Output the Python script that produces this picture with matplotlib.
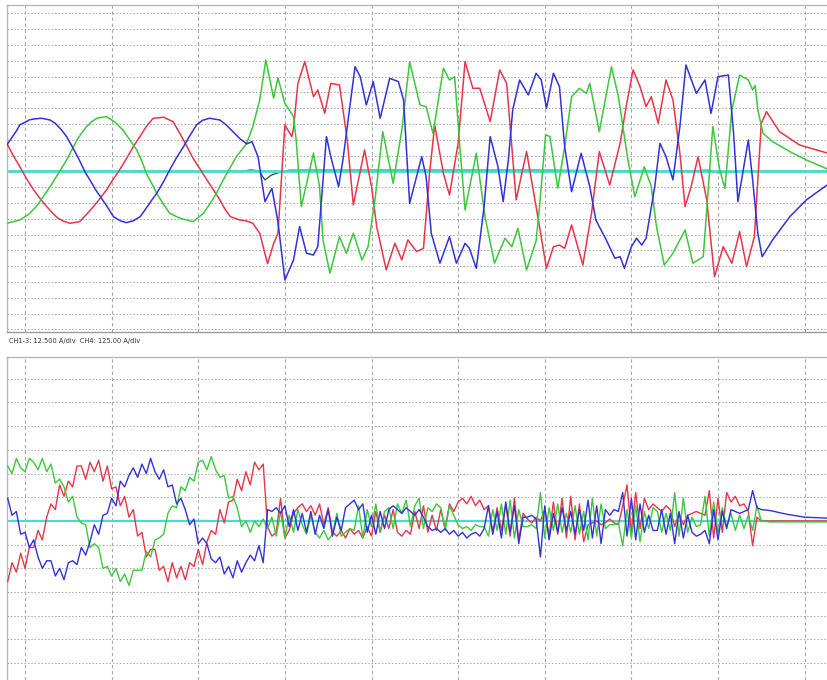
import numpy as np
import matplotlib.pyplot as plt

# ---- top panel: phase currents CH1-3 (time in ms, current in A)
t_red = [-2.1, -1.4, -0.6, 0.2, 1.0, 1.8, 2.5, 3.2, 3.8, 4.5, 5.2, 6.3, 7.1, 7.9, 8.7, 9.4, 10.1,
         10.8, 11.7, 12.5, 13.3, 14.0, 14.8, 16.0, 17.1, 17.8, 18.5, 19.4, 20.2, 21.0, 21.8, 22.5,
         23.1, 23.7, 24.8, 25.5, 26.3, 27.1, 28.0, 28.7, 29.2, 30.0, 30.8, 31.0, 31.5, 32.3,
         33.3, 33.8, 34.6, 35.3, 36.3, 37.2, 37.9, 39.2, 40.0, 40.6, 41.7, 42.7, 43.5, 44.2, 45.2,
         46.0, 46.7, 47.3, 48.3, 49.0, 50.0, 50.8, 51.7, 52.5, 53.7, 54.8, 55.6, 56.7, 57.9, 59.2,
         60.2, 61.0, 61.7, 62.3, 63.1, 64.4, 65.4, 66.3, 67.5, 68.7, 69.4, 70.2, 71.0, 71.7, 72.3,
         73.1, 74.0, 74.8, 75.6, 76.2, 76.9, 77.7, 78.7, 79.6, 80.6, 81.6, 82.5, 83.3, 84.2, 85.0,
         85.6, 87.1, 89.4, 92.6]
i_red = [22.3, 13.0, 3.8, -6.0, -14.6, -22.0, -27.8, -33.0, -37.0, -39.5, -41.0, -39.7, -34.0,
         -27.8, -21.0, -14.6, -7.0, 0.0, 10.0, 19.6, 28.0, 35.5, 42.1, 42.9, 39.4, 31.0, 22.3, 10.4,
         2.0, -6.7, -15.0, -22.5, -30.0, -35.7, -38.4, -39.0, -41.0, -48.9, -73.0, -57.0, -49.0,
         36.8, 27.6, 34.1, 69.7, 86.9, 59.2, 64.5, 46.0, 69.7, 68.4, 24.9, -26.5, 17.0, -12.0,
         -43.6, -77.9, -56.8, -70.0, -54.2, -63.4, -60.8, -1.5, 36.8, -1.5, -18.6, 22.3, 86.9,
         65.8, 65.8, 39.4, 80.3, 69.7, -22.5, 15.7, -35.7, -76.6, -59.5, -58.2, -60.8, -42.3,
         -74.0, -33.1, 15.7, -10.7, 22.3, 51.3, 80.3, 67.1, 51.3, 59.2, 38.1, 72.4, 56.6, 14.4,
         -27.8, -12.0, 11.7, -22.5, -83.2, -59.5, -72.6, -47.6, -75.3, -51.6, 38.1, 47.3, 31.5,
         21.0, 14.6]

t_green = [-2.1, -0.6, 0.4, 1.3, 2.1, 2.9, 3.8, 4.8, 5.4, 6.0, 6.5, 7.1, 7.7, 8.3, 9.4, 10.4, 11.3,
           12.1, 12.9, 13.5, 14.0, 14.6, 15.2, 16.0, 16.7, 17.9, 19.4, 20.6, 21.4, 22.1, 22.7, 23.3,
           24.4, 25.6, 26.3, 27.1, 27.8, 28.7, 29.2, 30.0, 31.0, 31.3, 31.9, 33.3,
           34.0, 34.4, 35.2, 36.3, 37.1, 37.9, 38.9, 39.6, 40.4, 41.3, 42.5, 43.5, 44.4, 45.6, 46.3,
           47.1, 48.3, 49.0, 49.6, 50.2, 50.8, 52.1, 53.1, 54.2, 55.4, 56.2, 56.9, 57.9, 59.0, 59.4,
           60.1, 60.6, 61.5, 62.3, 63.1, 64.0, 64.8, 65.2, 66.3, 67.7, 68.5, 69.6, 70.4, 71.5, 72.3,
           72.9, 73.8, 74.8, 76.2, 77.1, 78.3, 78.9, 79.4, 80.2, 80.8, 81.6, 82.5, 83.5, 84.0, 84.3,
           84.6, 85.2, 86.3, 88.3, 90.2, 92.6]
i_green = [-41.0, -38.4, -34.0, -27.8, -20.0, -12.0, -2.0, 9.1, 17.0, 24.9, 30.0, 35.5, 39.5, 42.1,
           43.4, 39.0, 32.8, 25.0, 17.0, 8.0, -1.5, -9.0, -17.3, -26.0, -33.1, -37.0, -39.7, -33.1,
           -25.0, -17.3, -9.0, -1.5, 11.7, 22.3, 35.5, 56.6, 88.2, 58.0, 74.0, 53.9, 43.4,
           24.9, -27.8, 14.4, -12.0, -54.2, -80.5, -51.6, -64.7, -48.9, -70.0, -59.5, -22.5, 31.5,
           -9.4, 32.8, 86.9, 52.6, 51.3, 30.2, 81.6, 72.4, 75.0, 19.6, -30.5, 14.4, -35.7, -72.6,
           -52.9, -59.5, -45.0, -77.9, -55.0, -27.8, 29.0, 27.6, -13.3, 19.6, 59.2, 65.8, 61.8, 69.7,
           31.5, 82.9, 59.2, 9.1, -19.9, 3.8, -12.0, -43.6, -74.0, -64.7, -46.3, -72.6, -67.4, -12.0,
           35.5, 1.2, -13.3, 48.7, 76.3, 72.4, 64.5, 68.0, 48.7, 30.2, 23.6, 15.7, 9.1, 2.0]

t_blue = [-2.1, -1.5, -1.0, -0.6, 0.0, 0.5, 1.0, 1.9, 2.9, 3.5, 4.2, 4.8, 5.5, 6.2, 6.9, 7.6, 8.2,
          8.7, 9.5, 10.2, 11.0, 11.7, 12.5, 13.3, 14.0, 14.6, 15.2, 16.0, 16.7, 17.5, 18.3, 19.0,
          19.8, 20.5, 21.3, 22.5, 23.2, 24.0, 24.8, 25.6, 26.2, 26.9, 27.7, 28.5, 29.2, 30.0, 31.0,
          31.7, 32.5, 33.3, 33.8, 34.8,
          35.3, 36.2, 36.7, 38.1, 38.7, 39.4, 40.2, 41.0, 42.1, 43.1, 43.7, 44.4, 45.8, 46.3, 46.9,
          47.9, 49.0, 49.8, 50.8, 51.3, 52.1, 53.0, 53.7, 54.6, 55.2, 55.8, 56.3, 57.1, 58.1, 59.0,
          59.6, 60.2, 61.0, 61.7, 62.3, 63.1, 64.2, 65.2, 65.9, 67.1, 68.1, 68.7, 69.2, 70.0, 70.6,
          71.2, 71.7, 72.7, 73.3, 74.0, 74.8, 75.6, 76.3, 77.5, 78.5, 79.2, 80.0, 81.2, 81.8, 82.3,
          83.5, 84.0, 84.6, 85.1, 86.3, 88.3, 90.2, 92.6]
i_blue = [21.0, 27.0, 32.0, 36.8, 39.0, 40.8, 41.5, 42.1, 40.7, 38.0, 33.0, 27.6, 19.0, 10.0, 0.0,
          -8.0, -15.0, -19.9, -28.0, -35.7, -39.0, -40.5, -39.0, -35.7, -29.0, -23.0, -17.3, -8.0,
          1.2, 11.0, 19.6, 28.0, 36.8, 40.5, 42.1, 40.7, 37.0, 31.5, 26.0, 21.8, 23.6, 11.7, -23.9,
          -13.3, -40.0, -85.8, -70.0, -43.6, -64.7, -66.1, -59.5, 27.6, 11.7, -12.0, 9.1, 82.9,
          75.0, 52.6, 71.1, 42.1, 73.7, 71.1, 56.6, -25.2, 11.7, -4.1, -48.9, -72.6, -51.6, -72.6,
          -56.8, -60.8, -76.6, -27.8, 27.6, 3.8, -23.9, 9.1, 48.7, 72.4, 60.5, 77.7, 72.4, 50.0,
          77.7, 67.1, 19.6, -16.0, 14.4, -12.0, -38.4, -54.2, -68.7, -67.4, -76.6, -59.5, -52.9,
          -58.2, -52.9, -12.0, 22.3, 11.7, -6.7, 35.5, 84.3, 61.8, 72.4, 46.0, 75.0, 76.3, 30.2,
          -23.9, 24.9, -6.7, -48.9, -67.4, -54.2, -35.7, -22.5, -10.7]

# CH4 trace, mostly hidden under the zero line
t_ch4 = [-2.1, 25.0, 26.0, 27.0, 27.7, 28.4, 29.2, 30.5, 60.0, 75.0, 79.0, 80.0, 83.0, 85.0, 92.6]
i_ch4 = [0, 0, 1.2, 0.5, -6.7, -3, -1, 1, 1, 0, 1, -1, 0.5, 0, 0]

# ---- bottom panel: sampled every 0.5 ms from -2 ms to 85 ms, then the settling tail
t_tail = [86.0, 88.0, 90.0, 92.6]
b_red = [-32, -22, -27, -17, -25, -14, -14, -5, -10, 2,
         9, 6, 19, 13, 21, 18, 29, 29, 22, 31,
         26, 32, 21, 29, 17, 18, 8, 13, 2, 6,
         -8, -6, -19, -15, -15, -26, -24, -32, -22, -30,
         -24, -31, -22, -24, -15, -23, -11, -5, -7, 6,
         -1, 10, 11, 22, 16, 26, 19, 31, 27, 30,
         -3, -8, -6, 12, -9, -5, 4, 7, 9, 5,
         8, 3, 9, -2, 7, -6, -8, -5, -9, -4,
         -7, -5, -9, -3, -8, 5, -6, 3, -4, 6,
         -6, -8, -5, -7, 5, -4, 8, -6, 3, -5,
         6, -4, 9, 5, 10, 12, 9, 13, 8, 11,
         6, 8, -6, 7, -5, 9, -8, 12, -10, 4,
         1, -1, 2, 0, 6, -8, 10, -7, 12, -9,
         13, -10, 9, -11, -2, -1, 0, -2, -1, 1,
         -1, -2, 8, 19, -6, 15, -4, 12, 6, 9,
         7, 5, 8, 6, -3, 4, -2, 3, 4, 5,
         4, 3, 16, -9, 12, -6, 15, 10, 13, 8,
         9, 5, -13, 2, 0,
         0, 0, 0, 0]
b_green = [29, 25, 33, 28, 26, 33, 31, 27, 33, 26,
           30, 20, 22, 18, 10, 13, 2, -1, -2, -14,
           -12, -14, -25, -24, -29, -25, -32, -28, -34, -26,
           -26, -26, -16, -19, -10, -9, -7, 4, 8, 7,
           18, 16, 23, 21, 31, 32, 27, 34, 27, 23,
           24, 12, 13, 7, -3, 0, -6, 0, -3, 1,
           -4, 2, -8, 5, -9, 3, -6, 6, -2, -7,
           3, -6, -9, -5, -10, -7, 4, -8, -6, -4,
           -5, 8, -9, 6, -3, 9, -6, 5, 7, -4,
           9, 4, 11, -3, 8, 12, -4, 7, 5, 9,
           7, -5, 8, 3, -2, -4, -3, -5, -2, -3,
           -3, -8, 6, -5, 9, -7, 11, -9, 6, -3,
           -3, -2, -4, 15, -9, 7, -5, 9, -6, 4,
           -6, 8, -7, 5, -10, 12, -8, 9, -4, -2,
           -2, -1, -13, 6, -9, 8, -11, 5, -4, 7,
           5, -6, 4, -5, 15, -8, 12, -6, 2, -3,
           -2, 13, -8, 10, -6, 7, -3, 4, -5, 3,
           -4, 3, -5, 8, 0,
           -0.5, -0.5, -0.5, -0.5]
b_blue = [12, 3, 5, -7, -6, -14, -10, -19, -25, -21,
          -21, -29, -25, -31, -22, -21, -23, -14, -18, -11,
          -2, -7, 3, 4, 12, 8, 21, 18, 24, 28,
          23, 30, 25, 33, 26, 22, 27, 18, 19, 9,
          12, 6, -2, 1, -12, -9, -12, -20, -22, -19,
          -28, -24, -30, -21, -27, -22, -18, -21, -13, -22,
          6, 5, 7, 4, 8, -3, 6, -5, 4, -6,
          5, -7, 3, -4, 6, -8, 2, -5, 7, 9,
          11, 6, 9, -6, 3, -7, 5, -4, 6, 8,
          6, 4, 7, 5, 3, 6, 2, -3, -5, -4,
          -6, -4, -7, -5, -8, -6, -9, -7, -6, -8,
          -4, 8, -7, 5, -9, 10, -6, 8, -12, 2,
          2, 3, 1, -19, 8, -10, 4, -6, 7, -5,
          5, -7, 6, -5, 11, -9, 8, -12, 6, 3,
          6, 5, 15, -8, 12, -10, 9, -6, 3, -5,
          -5, 6, -7, 4, -12, 5, -9, 3, -6, -8,
          -7, -5, -12, 6, -10, 5, -4, 6, 5, 4,
          5, 6, 16, 7, 6,
          5.5, 3.5, 2.0, 1.5]
t_bot = np.concatenate([np.arange(-2.0, 85.25, 0.5), t_tail])

label = 'CH1-3: 12.500 A/div  CH4: 125.00 A/div'

RED = '#e8354a'
GREEN = '#3cc83c'
BLUE = '#3232dc'
CYAN = '#48dcd0'

fig = plt.figure(figsize=(8.28, 6.8), dpi=100)
ax1 = fig.add_axes([7 / 828, 1 - 332 / 680, 821 / 828, 327 / 680])
ax2 = fig.add_axes([7 / 828, 0, 821 / 828, 323 / 680])


def scope_grid(ax, y0, y1):
    ax.set_xlim(-2.08, 92.7)
    ax.set_ylim(y0, y1)
    ax.set_xticks([])
    ax.set_yticks([])
    for k in range(-10, 11):
        ax.axhline(k * 12.5, color='#a6a6a6', lw=0.7, ls=(0, (1.5, 2)), zorder=0)
    for k in range(10):
        ax.axvline(k * 10, color='#a8a8a8', lw=0.8, ls=(0, (3, 2.5)), zorder=0)
    for s in ax.spines.values():
        s.set_color('#b8b8b8')
        s.set_linewidth(1.0)
    ax.spines['right'].set_visible(False)


scope_grid(ax1, -127, 131.7)
ax1.plot(t_ch4, i_ch4, color='#2f5f4f', lw=1.0, zorder=1)
ax1.axhline(0, color=CYAN, lw=2.0, zorder=2)
ax1.plot(t_red, i_red, color=RED, lw=1.1, zorder=3)
ax1.plot(t_green, i_green, color=GREEN, lw=1.1, zorder=3)
ax1.plot(t_blue, i_blue, color=BLUE, lw=1.1, zorder=3)
ax1.spines['bottom'].set_color('#9a9a9a')

scope_grid(ax2, -83.9, 86.5)
ax2.spines['bottom'].set_visible(False)
ax2.axhline(0, color=CYAN, lw=1.6, zorder=1)
ax2.plot(t_bot, b_red, color=RED, lw=1.0, zorder=3)
ax2.plot(t_bot, b_green, color=GREEN, lw=1.0, zorder=3)
ax2.plot(t_bot, b_blue, color=BLUE, lw=1.0, zorder=3)

fig.text(9 / 828, 1 - 341 / 680, label, fontsize=4.8, va='center', color='#333333',
         family=['Liberation Sans Narrow', 'DejaVu Sans'])

fig.savefig('out.png', dpi=100)
